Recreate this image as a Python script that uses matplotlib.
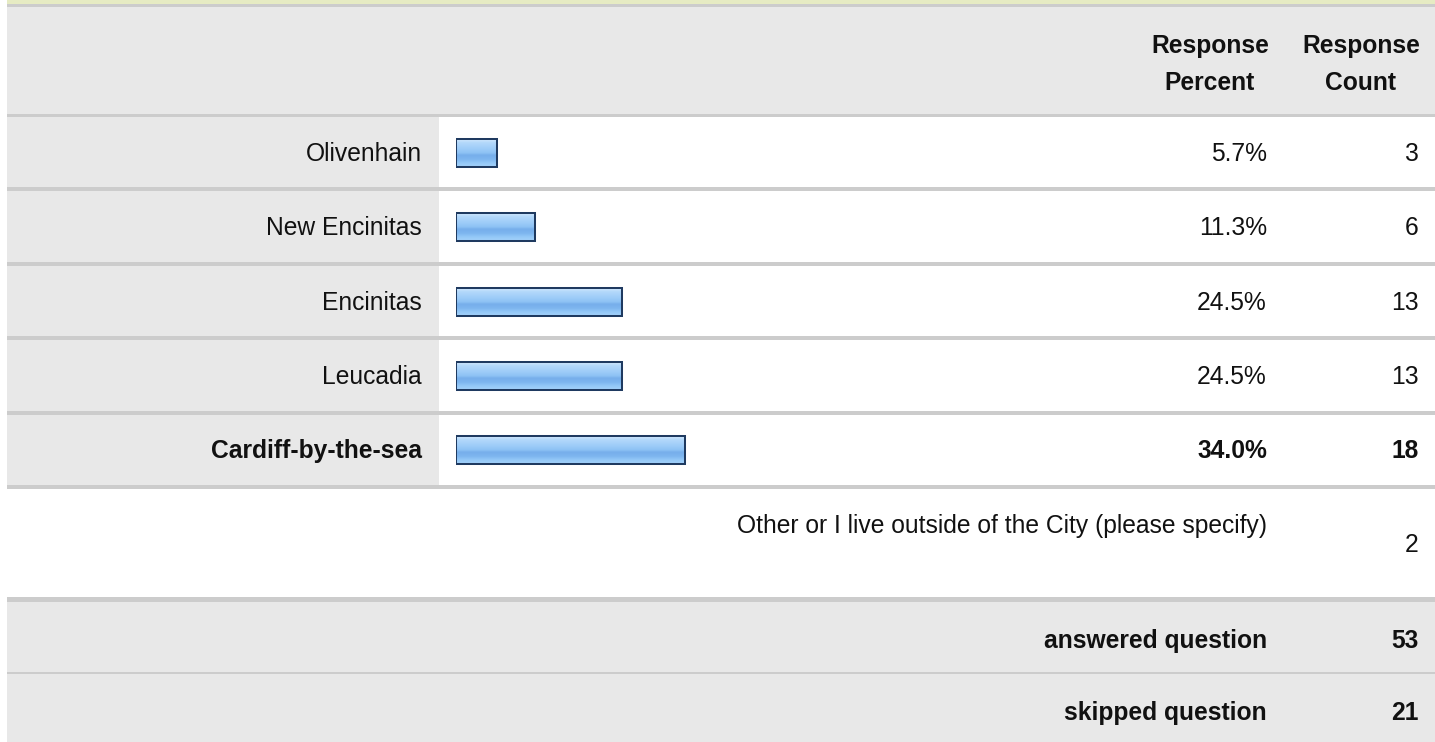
import matplotlib
matplotlib.use('Agg')
import matplotlib.pyplot as plt
import numpy as np
from matplotlib.patches import Rectangle
from matplotlib.colors import LinearSegmentedColormap

# ---------------- data ----------------
categories = ["Olivenhain", "New Encinitas", "Encinitas", "Leucadia", "Cardiff-by-the-sea"]
percents = [5.7, 11.3, 24.5, 24.5, 34.0]
counts = [3, 6, 13, 13, 18]
bold_rows = [False, False, False, False, True]
header_percent = ["Response", "Percent"]
header_count = ["Response", "Count"]
other_label = "Other or I live outside of the City (please specify)"
other_count = 2
summary_labels = ["answered question", "skipped question"]
summary_counts = [53, 21]

# ---------------- layout / style ----------------
W, H = 1435, 742
FONT = 'Liberation Sans'
FS = 17.7
TXT = '#111111'
GRAY = '#e8e8e8'
LINE = '#cccccc'
EDGE = '#1f3a60'

fig = plt.figure(figsize=(W / 100, H / 100), dpi=100)
fig.patch.set_facecolor('white')
bg = fig.add_axes([0, 0, 1, 1])
bg.set_xlim(0, W)
bg.set_ylim(H, 0)
bg.axis('off')


def rect(x0, y0, x1, y1, c):
    bg.add_patch(Rectangle((x0, y0), x1 - x0, y1 - y0, facecolor=c,
                           edgecolor='none', lw=0))


def txt(x, y, s, ha='right', bold=False):
    bg.text(x, y, s, ha=ha, va='baseline', fontsize=FS, family=FONT,
            fontweight='bold' if bold else 'normal', color=TXT)


L = 7
LABEL_COL = 439
X_LABEL = 422
X_PCT = 1267
X_CNT = 1419

# top band + header
rect(L, 0, W, 4, '#e6ebc3')
rect(L, 4, W, 7, LINE)
rect(L, 7, W, 114, GRAY)
rect(L, 114, W, 117, LINE)
for i, s in enumerate(header_percent):
    txt(1210, 53 + 37.5 * i, s, ha='center', bold=True)
for i, s in enumerate(header_count):
    txt(1361, 53 + 37.5 * i, s, ha='center', bold=True)

# data rows
ROW0 = 117
PITCH = 74.4
n = len(categories)
for i, (cat, p, c, b) in enumerate(zip(categories, percents, counts, bold_rows)):
    top = ROW0 + PITCH * i
    rect(L, top, LABEL_COL, top + 70.4, GRAY)
    rect(L, top + 70.4, W, top + PITCH, LINE)
    base = top + 35.2 + 8.5
    txt(X_LABEL, base, cat, bold=b)
    txt(X_PCT, base, f"{p:.1f}%", bold=b)
    txt(X_CNT, base, str(c), bold=b)

# other row
end_rows = ROW0 + PITCH * n
txt(X_PCT, 533, other_label)
txt(X_CNT, 551.5, str(other_count))
rect(L, 597, W, 602, LINE)

# summary rows
rect(L, 602, W, 672, GRAY)
rect(L, 672, W, 674, LINE)
rect(L, 674, W, H, GRAY)
for i, (lab, c) in enumerate(zip(summary_labels, summary_counts)):
    base = 648 + 72 * i
    txt(X_PCT, base, lab, bold=True)
    txt(X_CNT, base, str(c), bold=True)

# ---------------- bars ----------------
SCALE = 6.63          # px per percent
BAR_LEFT_PX = 456
AX_RIGHT_PX = 1120
PAD = 3.6 / SCALE
ax_top, ax_bot = 115.5, 487.5
ax = fig.add_axes([BAR_LEFT_PX / W, 1 - ax_bot / H,
                   (AX_RIGHT_PX - BAR_LEFT_PX) / W, (ax_bot - ax_top) / H])
ax.patch.set_visible(False)
ax.axis('off')

bar_h = 28 / PITCH
ypos = np.arange(n)
bars = ax.barh(ypos, [p + PAD for p in percents], left=-PAD, height=bar_h,
               facecolor='none', edgecolor=EDGE, linewidth=1.45, zorder=3)

stops = [(0.0, '#d4e9fd'), (0.12, '#b4d9fb'), (0.35, '#9dccf8'),
         (0.5, '#8cc1f4'), (0.58, '#76aeeb'), (0.72, '#7db5ef'),
         (0.85, '#93c8f7'), (1.0, '#a4d2fa')]
cmap = LinearSegmentedColormap.from_list('barg', stops)
grad = np.linspace(0, 1, 128).reshape(-1, 1)
for y, p, patch in zip(ypos, percents, bars.patches):
    im = ax.imshow(grad, cmap=cmap, vmin=0, vmax=1, aspect='auto',
                   extent=[-PAD, p, y + bar_h / 2, y - bar_h / 2],
                   origin='upper', interpolation='bilinear', zorder=2)
    im.set_clip_path(patch)

ax.set_xlim(-PAD, (AX_RIGHT_PX - BAR_LEFT_PX) / SCALE - PAD)
ax.set_ylim(n - 0.5, -0.5)

fig.savefig('out.png', dpi=100, facecolor='white')
